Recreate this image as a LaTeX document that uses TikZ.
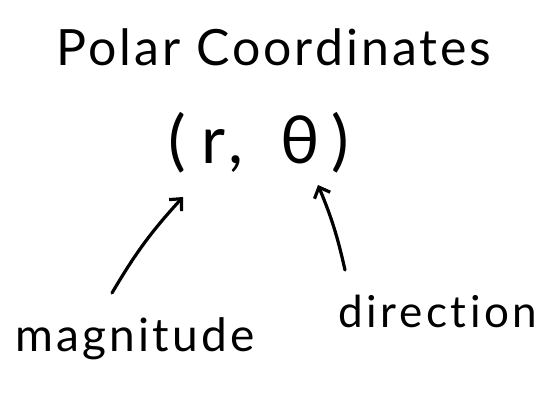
\documentclass[tikz,border=0pt]{standalone}
\usepackage{fontspec}
\setmainfont{Lato}[Ligatures=NoCommon]
\usetikzlibrary{arrows.meta}
\tikzset{
  label text/.style={inner sep=0pt, anchor=base, text=black},
  pair text/.style={label text, font=\fontsize{66}{72}\selectfont},
  pointer/.style={line width=3.2pt, line cap=round, line join=round,
    -{Straight Barb[length=9pt,width=17pt,line width=3.2pt]}}
}
\begin{document}
\begin{tikzpicture}[x=1pt,y=-1pt]
  \useasboundingbox[fill=white] (0,0) rectangle (558,393);
  % heading
  \node[label text, font=\fontsize{50}{56}\selectfont\addfontfeature{LetterSpace=6}] (title) at (274,66) {Polar Coordinates};
  % the coordinate pair, set glyph by glyph
  \node[pair text] (lpar)  at (177,164) {(};
  \node[pair text] (r)     at (214,164) {r};
  \node[pair text] (comma) at (236,164) {,};
  \node[pair text] (theta) at (300,164) {θ};
  \node[pair text] (rpar)  at (340,164) {)};
  % what each component means
  \node[label text, font=\fontsize{46}{52}\selectfont\addfontfeature{LetterSpace=7}] (mag) at (135,352) {magnitude};
  \node[label text, font=\fontsize{44}{50}\selectfont\addfontfeature{LetterSpace=8}] (dir) at (438,328) {direction};
  % arrow ends
  \coordinate (magtail) at (112,293);
  \coordinate (rhead) at (183,197);
  \coordinate (dirtail) at (345,270);
  \coordinate (thetahead) at (318,185);
  \draw[pointer] (magtail) to[bend left=6] (rhead);
  \draw[pointer] (dirtail) to[bend right=5] (thetahead);
\end{tikzpicture}
\end{document}
